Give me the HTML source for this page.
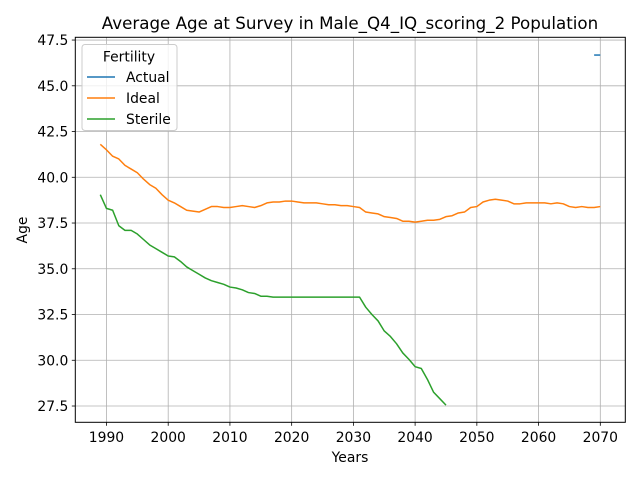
<!DOCTYPE html>
<html><head><meta charset="utf-8"><style>
html,body{margin:0;padding:0;background:#fff;}
svg{display:block;font-family:"DejaVu Sans","Liberation Sans",sans-serif;}
</style></head><body>
<svg id="chart" width="640" height="480" viewBox="0 0 640 480">
<rect width="640" height="480" fill="#fff"/>
<g id="grid"></g>
<g id="series"></g>
<rect x="75.3" y="37.3" width="550" height="385" fill="none" stroke="#000" stroke-width="1"/>
<g id="ticks"></g>
<text x="350" y="29" font-size="16.7" text-anchor="middle" fill="#000">Average Age at Survey in Male_Q4_IQ_scoring_2 Population</text>
<text x="350" y="462" font-size="13.9" text-anchor="middle">Years</text>
<text x="27" y="230" font-size="13.9" text-anchor="middle" transform="rotate(-90 27 230)">Age</text>
<g>
<rect x="82" y="44.5" width="95" height="86" rx="3" fill="#fff" fill-opacity="0.8" stroke="#ccc"/>
<text x="129" y="61.5" font-size="13.9" text-anchor="middle">Fertility</text>
<line x1="87" y1="77" x2="115" y2="77" stroke="#1f77b4" stroke-width="1.5"/>
<text x="126" y="82" font-size="13.9">Actual</text>
<line x1="87" y1="98" x2="115" y2="98" stroke="#ff7f0e" stroke-width="1.5"/>
<text x="126" y="103" font-size="13.9">Ideal</text>
<line x1="87" y1="119" x2="115" y2="119" stroke="#2ca02c" stroke-width="1.5"/>
<text x="126" y="124" font-size="13.9">Sterile</text>
</g>
</svg>
<script>
const xTicks=[1990,2000,2010,2020,2030,2040,2050,2060,2070];
const yTicks=[27.5,30.0,32.5,35.0,37.5,40.0,42.5,45.0,47.5];
const actualYears=[2069,2070];
const actualValues=[46.68,46.68];
const idealStart=1989;
const idealValues=[41.8,41.5,41.15,41.0,40.65,40.45,40.25,39.9,39.6,39.4,39.05,38.75,38.6,38.4,38.2,38.15,38.1,38.25,38.4,38.4,38.35,38.35,38.4,38.45,38.4,38.35,38.45,38.6,38.65,38.65,38.7,38.7,38.65,38.6,38.6,38.6,38.55,38.5,38.5,38.45,38.45,38.4,38.35,38.1,38.05,38.0,37.85,37.8,37.75,37.6,37.6,37.55,37.6,37.65,37.65,37.7,37.85,37.9,38.05,38.1,38.35,38.4,38.65,38.75,38.8,38.75,38.7,38.55,38.55,38.6,38.6,38.6,38.6,38.55,38.6,38.55,38.4,38.35,38.4,38.35,38.35,38.4];
const sterileStart=1989;
const sterileValues=[39.05,38.3,38.2,37.35,37.1,37.1,36.9,36.6,36.3,36.1,35.9,35.7,35.65,35.4,35.1,34.9,34.7,34.5,34.35,34.25,34.15,34.0,33.95,33.85,33.7,33.65,33.5,33.5,33.45,33.45,33.45,33.45,33.45,33.45,33.45,33.45,33.45,33.45,33.45,33.45,33.45,33.45,33.45,32.9,32.5,32.15,31.6,31.3,30.9,30.4,30.05,29.65,29.55,28.95,28.25,27.9,27.55];
const NS='http://www.w3.org/2000/svg';
const X0=75.3,X1=625.3,Y0=422.3,Y1=37.3;
const xMin=1984.95,xMax=2074.05,yMin=26.61,yMax=47.65;
function sx(v){return X0+(v-xMin)/(xMax-xMin)*(X1-X0);}
function sy(v){return Y0-(v-yMin)/(yMax-yMin)*(Y0-Y1);}
function mk(tag,attrs,parent){const e=document.createElementNS(NS,tag);for(const k in attrs)e.setAttribute(k,attrs[k]);parent.appendChild(e);return e;}
const grid=document.getElementById('grid'),ticks=document.getElementById('ticks'),series=document.getElementById('series');
xTicks.forEach(t=>{const x=sx(t);
 const g=mk('line',{x1:x,x2:x,y1:Y1,y2:Y0,stroke:'#b0b0b0','stroke-width':0.8},grid);
 
 
 mk('line',{x1:x,x2:x,y1:Y0,y2:Y0+3.5,stroke:'#000','stroke-width':0.8},ticks);
 const l=mk('text',{x:x,y:Y0+19.5,'font-size':13.9,'text-anchor':'middle'},ticks);l.textContent=t;
 
 });
yTicks.forEach(t=>{const y=sy(t);
 const g=mk('line',{x1:X0,x2:X1,y1:y,y2:y,stroke:'#b0b0b0','stroke-width':0.8},grid);
 
 
 mk('line',{x1:X0-3.5,x2:X0,y1:y,y2:y,stroke:'#000','stroke-width':0.8},ticks);
 const l=mk('text',{x:X0-7,y:y+5,'font-size':13.9,'text-anchor':'end'},ticks);l.textContent=t.toFixed(1);
 
 });
function line(xs,ys,color,name){const pts=xs.map((x,i)=>sx(x).toFixed(2)+','+sy(ys[i]).toFixed(2)).join(' ');
 const p=mk('polyline',{points:pts,fill:'none',stroke:color,'stroke-width':1.5,'stroke-linejoin':'round'},series);
 
 }
line(actualYears,actualValues,'#1f77b4','actual-line');
line(idealValues.map((_,i)=>idealStart+i),idealValues,'#ff7f0e','ideal-line');
line(sterileValues.map((_,i)=>sterileStart+i),sterileValues,'#2ca02c','sterile-line');
</script>
</body></html>
